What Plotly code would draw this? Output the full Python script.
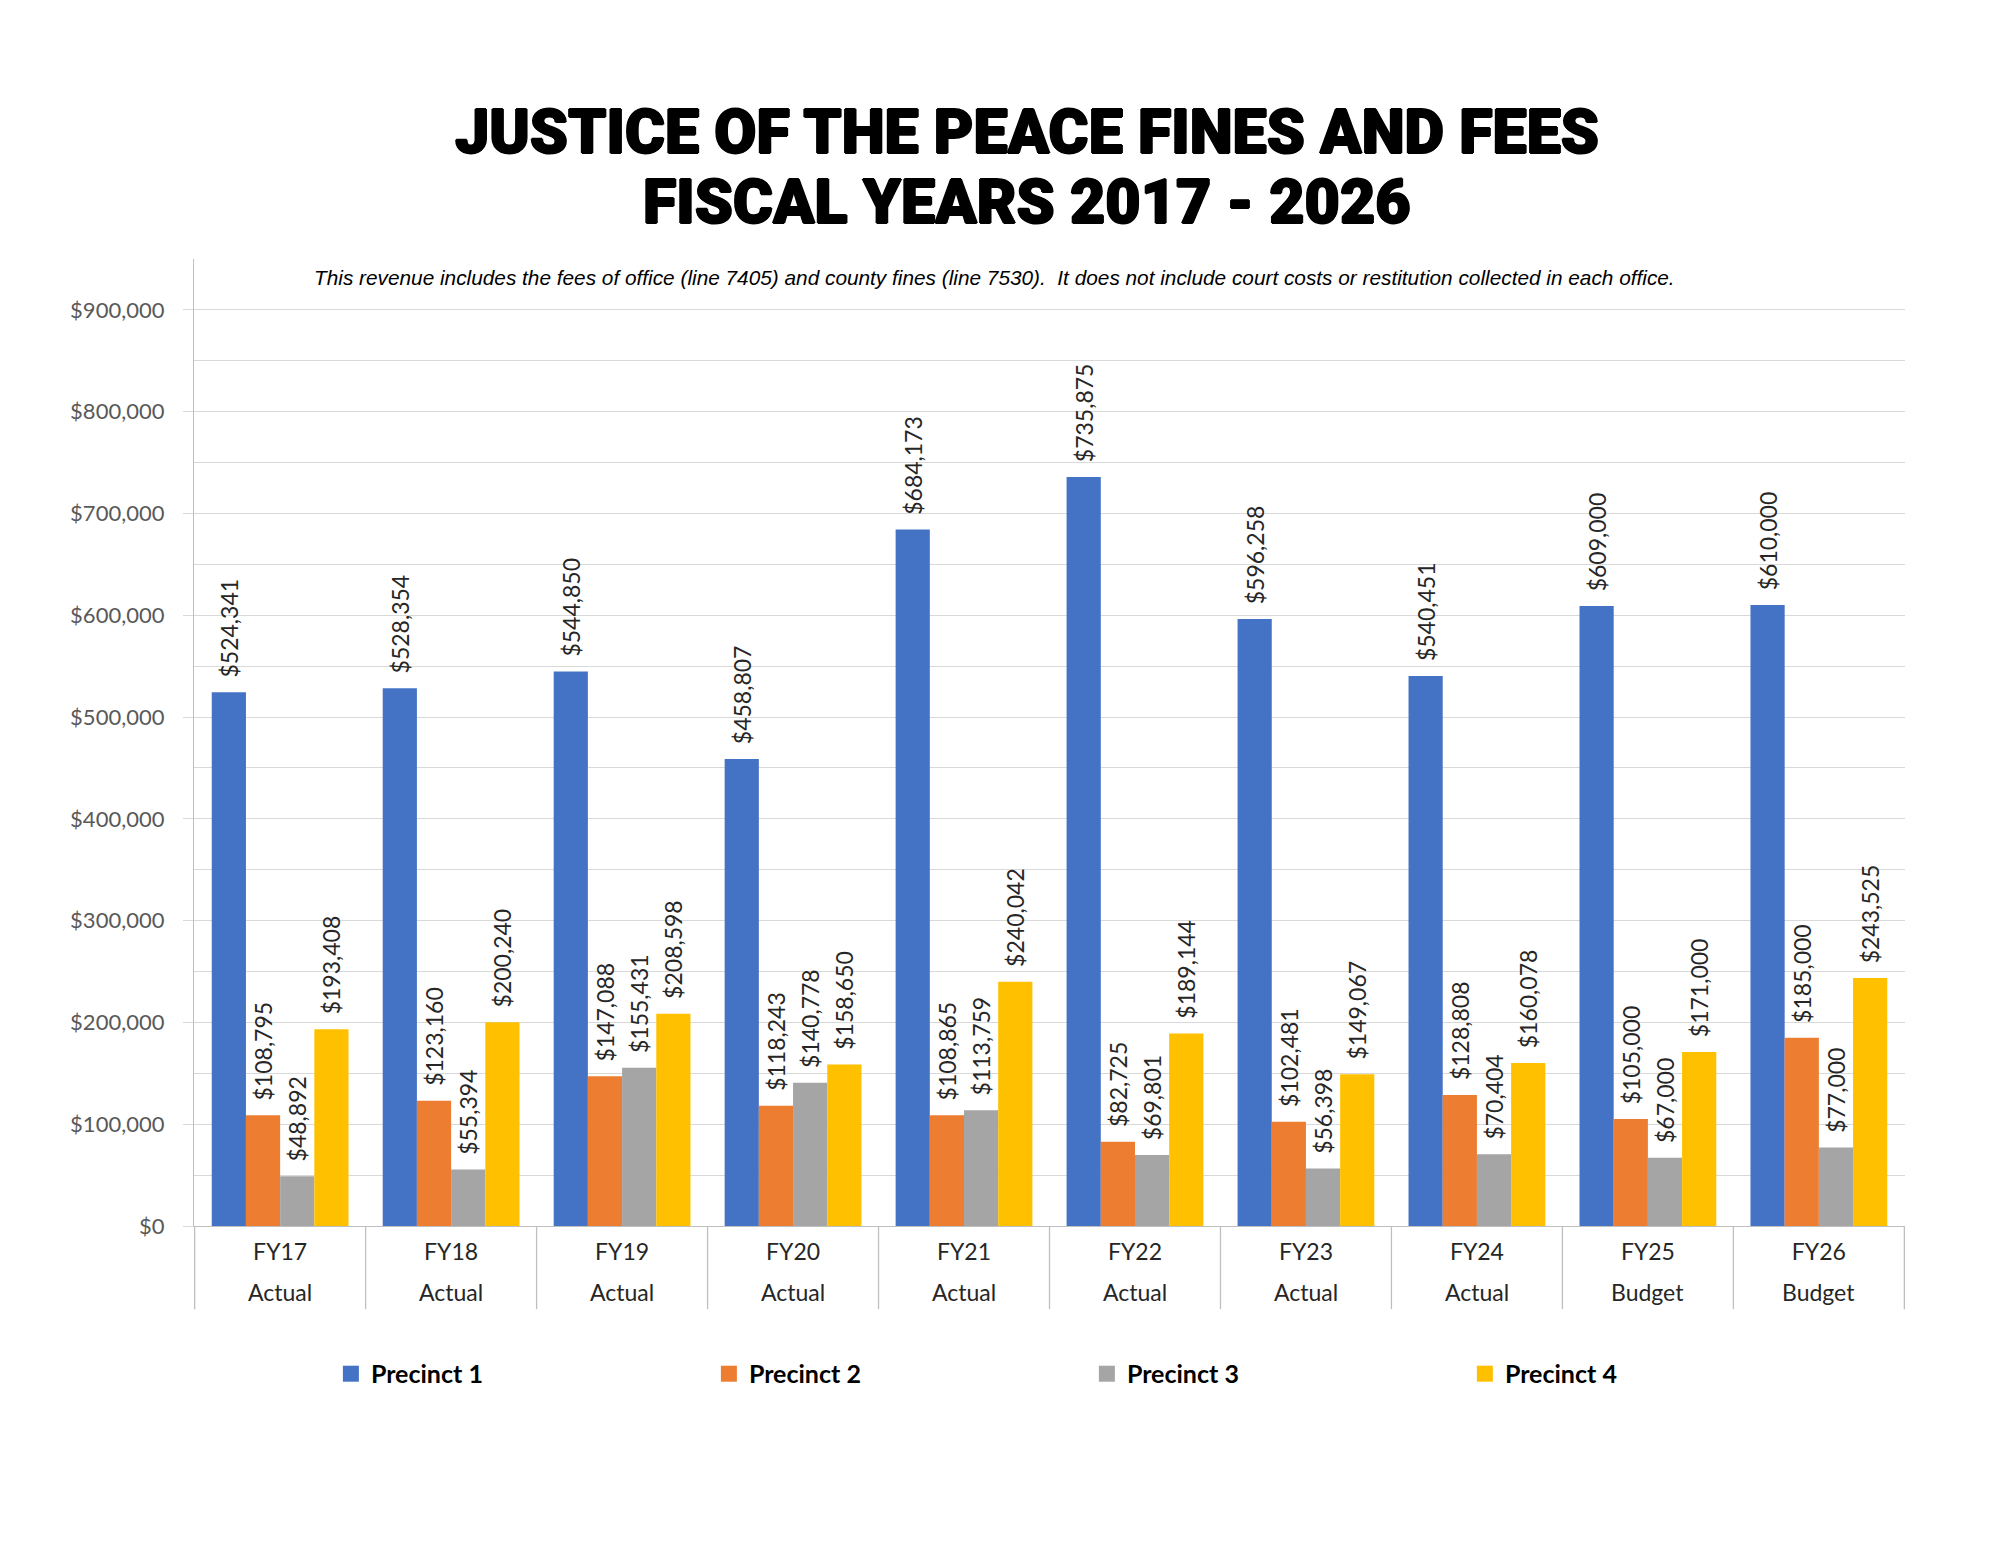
import plotly.graph_objects as go

# data
fiscal_years = ["FY17", "FY18", "FY19", "FY20", "FY21", "FY22", "FY23", "FY24", "FY25", "FY26"]
status = ["Actual", "Actual", "Actual", "Actual", "Actual", "Actual", "Actual", "Actual", "Budget", "Budget"]

precinct_1 = [524341, 528354, 544850, 458807, 684173, 735875, 596258, 540451, 609000, 610000]
precinct_2 = [108795, 123160, 147088, 118243, 108865, 82725, 102481, 128808, 105000, 185000]
precinct_3 = [48892, 55394, 155431, 140778, 113759, 69801, 56398, 70404, 67000, 77000]
precinct_4 = [193408, 200240, 208598, 158650, 240042, 189144, 149067, 160078, 171000, 243525]

series = [
    ("Precinct 1", precinct_1, "#4472C4"),
    ("Precinct 2", precinct_2, "#ED7D31"),
    ("Precinct 3", precinct_3, "#A5A5A5"),
    ("Precinct 4", precinct_4, "#FFC000"),
]

y_ticks = [0, 100000, 200000, 300000, 400000, 500000, 600000, 700000, 800000, 900000]
y_ticktext = ["$" + f"{v:,}" for v in y_ticks]

title_lines = ["JUSTICE OF THE PEACE FINES AND FEES", "FISCAL YEARS 2017 - 2026"]
note = ("This revenue includes the fees of office (line 7405) and county fines (line 7530).&nbsp;&nbsp;"
        "It does not include court costs or restitution collected in each office.")

FONT = "Lato, Open Sans, sans-serif"
GRID = "#D9D9D9"
AXIS = "#BFBFBF"
HEAVY = "1px 0px 0px #000, -1px 0px 0px #000, 0px 1px 0px #000, 0px -1px 0px #000"

fig = go.Figure()
for name, vals, color in series:
    fig.add_trace(go.Bar(
        name=name,
        x=fiscal_years,
        y=vals,
        marker=dict(color=color, line=dict(width=0)),
        text=["\u00a0\u00a0$" + f"{v:,}" for v in vals],
        textposition="outside",
        textangle=-90,
        constraintext="none",
        cliponaxis=False,
        textfont=dict(family=FONT, size=23, color="#262626"),
        hoverinfo="skip",
        showlegend=False,
    ))

# legend entries with bigger square swatches
for name, vals, color in series:
    fig.add_trace(go.Scatter(
        name=name, x=[None], y=[None], mode="markers",
        marker=dict(symbol="square", size=16, color=color),
        hoverinfo="skip",
    ))

# category boxes under the axis
shapes = []
for i in range(len(fiscal_years) + 1):
    shapes.append(dict(type="line", xref="x", yref="paper",
                       x0=i - 0.5, x1=i - 0.5, y0=-0.086, y1=0,
                       line=dict(color=AXIS, width=1.3)))

annotations = []
for fy, st in zip(fiscal_years, status):
    annotations.append(dict(x=fy, xref="x", y=-0.068, yref="paper",
                            text=st, showarrow=False, yanchor="middle",
                            font=dict(family=FONT, size=23, color="#262626")))

# two-line heavy title
for line, ypos in zip(title_lines, [1.1317, 1.0593]):
    annotations.append(dict(
        x=0.4867, xref="paper", y=ypos, yref="paper", showarrow=False,
        xanchor="center", yanchor="middle", text=line,
        font=dict(family="Roboto, Lato, sans-serif", size=61, color="#000000",
                  weight=900, shadow=HEAVY),
    ))

annotations.append(dict(
    x=0.468, xref="paper", y=0.981, yref="paper", showarrow=False,
    yanchor="middle", text="<i>" + note + "</i>",
    font=dict(family="Liberation Sans, Arial, sans-serif", size=20.8, color="#000000"),
))

fig.update_layout(
    width=2000,
    height=1545,
    paper_bgcolor="white",
    plot_bgcolor="white",
    margin=dict(l=186, r=103, t=251, b=327),
    barmode="group",
    bargap=0.2,
    bargroupgap=0,
    legend=dict(
        orientation="h",
        x=0.080, xanchor="left",
        y=-0.153, yanchor="middle",
        entrywidth=333, entrywidthmode="pixels",
        font=dict(family=FONT, size=25, color="#000000", weight="bold"),
        itemclick=False,
    ),
    shapes=shapes,
    annotations=annotations,
    showlegend=True,
)

fig.update_xaxes(
    type="category",
    showline=True, linecolor=AXIS, linewidth=1.3,
    showgrid=False,
    ticks="",
    ticklabelstandoff=5,
    tickfont=dict(family=FONT, size=23, color="#262626"),
    fixedrange=True,
)

fig.update_yaxes(
    range=[0, 950000],
    tickvals=y_ticks,
    ticktext=y_ticktext,
    showline=True, linecolor=AXIS, linewidth=1.3,
    showgrid=True, gridcolor=GRID, gridwidth=1.3,
    ticks="outside", ticklen=10, tickcolor=GRID, tickwidth=1.3,
    ticklabelstandoff=14,
    minor=dict(dtick=50000, tick0=0, showgrid=True, gridcolor=GRID, gridwidth=1.3, ticks=""),
    zeroline=False,
    tickfont=dict(family=FONT, size=22, color="#595959"),
    fixedrange=True,
)

fig.write_html("out.html")
